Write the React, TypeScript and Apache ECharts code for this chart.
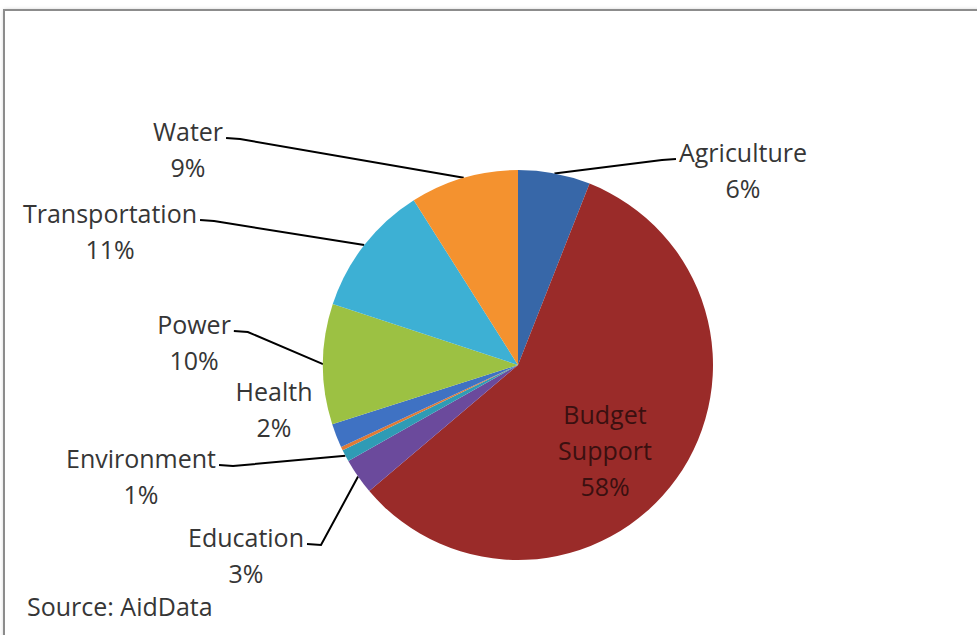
import React, { useEffect, useRef } from "react";
import * as echarts from "echarts";

const categories = [
  "Agriculture",
  "Budget Support",
  "Education",
  "Environment",
  "Other",
  "Health",
  "Power",
  "Transportation",
  "Water",
];
const shares = [6, 58, 3, 1, 0.3, 2, 10, 11, 9];
const sliceColors = [
  "#3767a8",
  "#9a2b29",
  "#6b4a9c",
  "#2f9bb5",
  "#e07a35",
  "#3f72c3",
  "#9cc143",
  "#3db0d4",
  "#f4922f",
];
const sourceNote = "Source: AidData";

// layout (label block centres and which side the leader stub leaves from)
const labelCenters: [number, number][] = [
  [743, 170],
  [605, 450],
  [246, 555],
  [141, 476],
  [0, 0],
  [274, 409],
  [194, 342],
  [110, 231],
  [188, 149],
];
const leaderSide = [-1, 0, 1, 1, 0, 0, 1, 1, 1];
const LINE_H = 36;
const FONT_SIZE = 25;
const FONT = "'Open Sans', sans-serif";

export default function App() {
  const ref = useRef<HTMLDivElement>(null);
  useEffect(() => {
    if (!ref.current) return;
    const chart = echarts.init(ref.current, undefined, { renderer: "svg" });
    const data = categories.map((name, i) => {
      const item: any = {
        name,
        value: shares[i],
        itemStyle: { color: sliceColors[i] },
      };
      if (name === "Other") {
        item.label = { show: false };
        item.labelLine = { show: false };
      }
      if (leaderSide[i] === 0) item.labelLine = { show: false };
      if (name === "Budget Support") item.label = { color: "#3a1010" };
      return item;
    });
    chart.setOption({
      animation: false,
      backgroundColor: "#ffffff",
      graphic: [
        {
          type: "rect",
          shape: { x: 4, y: 10, width: 1200, height: 1000 },
          style: {
            fill: "#ffffff",
            stroke: "#8c8c8c",
            lineWidth: 2,
            shadowBlur: 4,
            shadowColor: "rgba(0,0,0,0.25)",
            shadowOffsetX: 1,
            shadowOffsetY: 1,
          },
          z: -10,
        },
        {
          type: "text",
          left: 27,
          top: 593,
          style: {
            text: sourceNote,
            fill: "#363636",
            font: `${FONT_SIZE}px ${FONT}`,
          },
        },
      ],
      series: [
        {
          type: "pie",
          center: [518, 365],
          radius: 195,
          startAngle: 90,
          clockwise: true,
          silent: true,
          avoidLabelOverlap: false,
          data,
          label: {
            show: true,
            position: "outside",
            color: "#363636",
            fontSize: FONT_SIZE,
            fontFamily: FONT,
            lineHeight: LINE_H,
            align: "center",
            formatter: (p: any) => `${p.name.replace(" ", "\n")}\n${p.value}%`,
          },
          labelLine: {
            show: true,
            length: 10,
            length2: 10,
            lineStyle: { color: "#000000", width: 2 },
          },
          labelLayout: (p: any) => {
            const i = p.dataIndex;
            const [cx, cy] = labelCenters[i];
            const w = p.labelRect.width;
            const h = p.labelRect.height;
            const out: any = { x: cx, y: cy, align: "center", verticalAlign: "middle" };
            const side = leaderSide[i];
            if (side !== 0 && p.labelLinePoints) {
              const edge = p.labelLinePoints[0];
              const ay = cy - h / 2 + LINE_H / 2 + 7;
              const ax = side > 0 ? cx + w / 2 + 3 : cx - w / 2 - 3;
              out.labelLinePoints = [
                [ax, ay],
                [ax + side * 14, ay + 1],
                edge,
              ];
            }
            return out;
          },
        },
      ],
    });
    return () => chart.dispose();
  }, []);
  return (
    <div
      ref={ref}
      style={{ position: "fixed", left: 0, top: 0, width: 977, height: 635 }}
    />
  );
}
